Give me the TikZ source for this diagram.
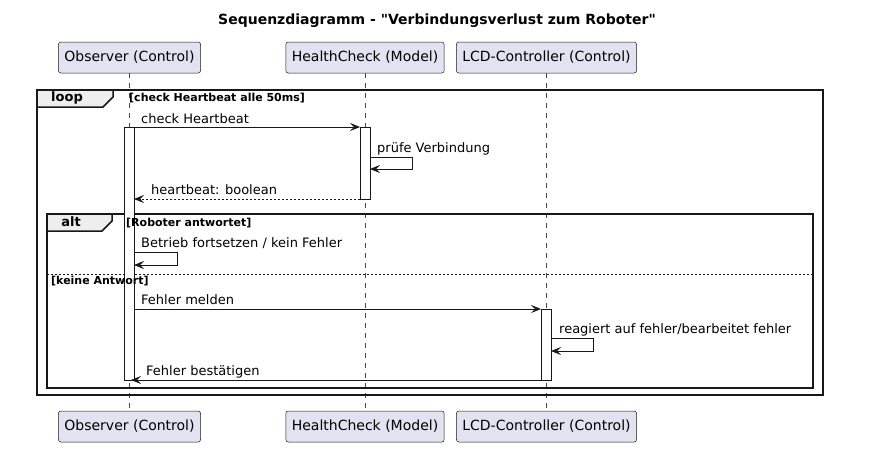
\documentclass[tikz,border=0pt]{standalone}
\usepackage{fontspec}
\setmainfont{DejaVu Sans}
\usetikzlibrary{calc,positioning,arrows.meta}
\definecolor{partfill}{HTML}{E2E2F0}
\definecolor{linecol}{HTML}{181818}
\definecolor{tabfill}{HTML}{EEEEEE}
\tikzset{msg/.style={draw=linecol,line width=0.8pt,-{Stealth[length=10pt,width=8pt,inset=4pt]}},
retmsg/.style={msg,dash pattern=on 2pt off 2pt}}

\begin{document}
\begin{tikzpicture}[x=1pt,y=-1pt,font=\fontsize{13}{15}\selectfont]

\tikzset{partbox/.style={draw=linecol,fill=partfill,rounded corners=2.5pt,line width=0.5pt,minimum width=0pt,minimum height=31pt,inner xsep=6pt,font=\fontsize{14}{16}\selectfont},
actbar/.style={draw=linecol,fill=white,line width=0.8pt,minimum width=10pt,inner sep=0pt},
lifeline/.style={draw=linecol!80,line width=0.5pt,dash pattern=on 5pt off 5pt},
framebox/.style={draw=linecol,line width=1.5pt},
tabbox/.style={draw=linecol,fill=tabfill,line width=1.5pt},
condtext/.style={anchor=west,inner sep=0pt,font=\bfseries\fontsize{11}{13}\selectfont},
tabtext/.style={inner sep=0pt,font=\bfseries\fontsize{13}{15}\selectfont},
msgtext/.style={anchor=base west,inner sep=0pt}}

\useasboundingbox (0,0) rectangle (874,455);

% Title
\node[font=\bfseries\fontsize{14}{16}\selectfont] (title) at (437,21) {Sequenzdiagramm - \textquotedbl Verbindungsverlust zum Roboter\textquotedbl};

% Participants
\node[partbox] (obsT) at (129.5,57.5) {Observer (Control)};
\node[partbox] (hcT) at (365,57.5) {HealthCheck (Model)};
\node[partbox] (lcdT) at (546.5,57.5) {LCD-Controller (Control)};
\node[partbox] (obsB) at (129.5,426.5) {Observer (Control)};
\node[partbox] (hcB) at (365,426.5) {HealthCheck (Model)};
\node[partbox] (lcdB) at (546.5,426.5) {LCD-Controller (Control)};

% Lifelines
\foreach \p in {obs,hc,lcd} \draw[lifeline] (\p T.south) -- (\p B.north);

% Loop frame
\draw[framebox] (37,90) rectangle (823,395);
\draw[tabbox] (37,90) -- (113,90) -- (113,97) -- (103,107) -- (37,107) -- cycle;
\node[tabtext] (loopLabel) at (67,98) {loop};

% Alt frame
\draw[framebox] (47,214) rectangle (813,388);
\draw[tabbox] (47,214) -- (112,214) -- (112,221) -- (102,231) -- (47,231) -- cycle;
\node[tabtext] (altLabel) at (71,222) {alt};
\draw[linecol,line width=0.8pt,dash pattern=on 2pt off 2pt] (47,274) -- (813,274);

% Activations
\node[actbar,minimum height=253pt] (actObs) at (129,253.5) {};
\node[actbar,minimum height=72pt] (actHc) at (365,163) {};
\node[actbar,minimum height=71pt] (actLcd) at (546,344.5) {};

% Guards (over the bars)
\node[condtext] (loopCond) at (129,98) {[check Heartbeat alle 50ms]};
\node[condtext] (altCond) at (126,223) {[Roboter antwortet]};
\node[condtext] (elseCond) at (51,281) {[keine Antwort]};

% Message points
\coordinate (m1a) at (134,127); \coordinate (m1b) at (360,127);
\coordinate (p1a) at (370,157); \coordinate (p1b) at (370,169);
\coordinate (r1a) at (360,199); \coordinate (r1b) at (134,199);
\coordinate (p2a) at (134,252); \coordinate (p2b) at (134,265);
\coordinate (m2a) at (134,309); \coordinate (m2b) at (541,309);
\coordinate (p3a) at (551,338); \coordinate (p3b) at (551,351);
\coordinate (r2a) at (541,380); \coordinate (r2b) at (131,380);

% Messages
\draw[msg] (m1a) -- (m1b);
\node[msgtext] at (141,123) {check Heartbeat};
\draw[msg] (p1a) -- ++(42,0) |- (p1b);
\node[msgtext] at (377,152) {prüfe Verbindung};
\draw[retmsg] (r1a) -- (r1b);
\node[msgtext] at (151,194) {heartbeat: boolean};
\draw[msg] (p2a) -- ++(43,0) |- (p2b);
\node[msgtext] at (141,247) {Betrieb fortsetzen / kein Fehler};
\draw[msg] (m2a) -- (m2b);
\node[msgtext] at (141,304) {Fehler melden};
\draw[msg] (p3a) -- ++(42,0) |- (p3b);
\node[msgtext] at (559,333) {reagiert auf fehler/bearbeitet fehler};
\draw[msg] (r2a) -- (r2b);
\node[msgtext] at (146,375) {Fehler bestätigen};

\end{tikzpicture}
\end{document}
